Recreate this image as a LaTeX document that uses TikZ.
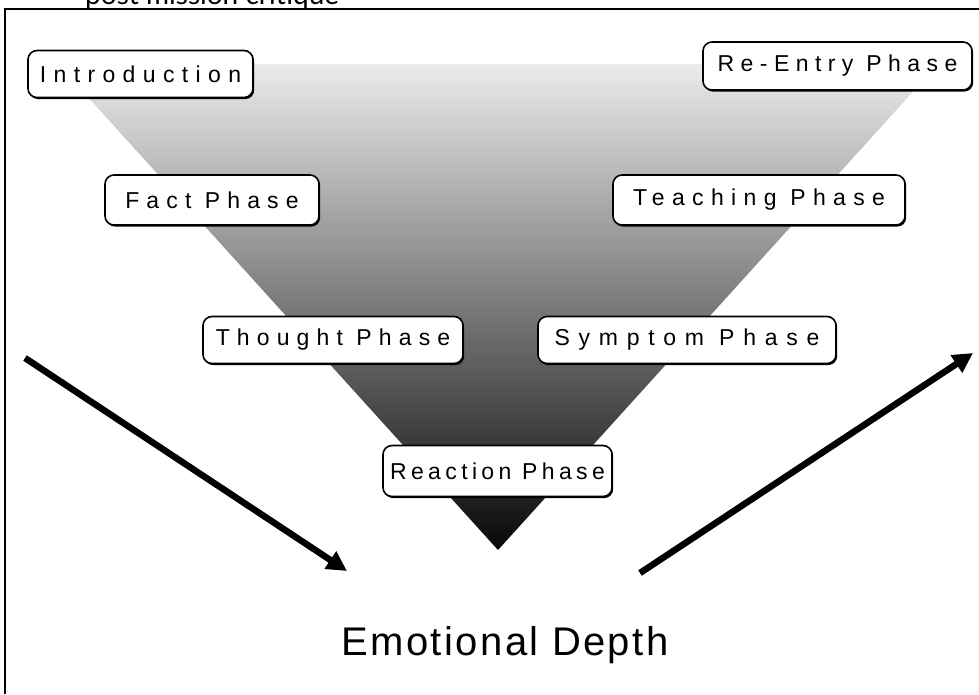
\documentclass[tikz,border=0pt]{standalone}
\usepackage{fontspec}
\setmainfont{Liberation Sans}
\newfontfamily\boxfont{Liberation Sans}
\newfontfamily\depthfont[LetterSpace=6]{Liberation Sans}
\newfontfamily\topfont{Lato}
\usetikzlibrary{arrows.meta,shadows}
\tikzset{
  phase/.style={draw, line width=1.6pt, rounded corners=9pt, fill=white,
    inner sep=0pt,
    drop shadow={shadow xshift=1.2pt, shadow yshift=-1.6pt, fill=black, opacity=1}},
  ls/.style={font=\boxfont\fontsize{23}{25}\selectfont\addfontfeatures{LetterSpace=#1}},
  bigarrow/.style={line width=6.5pt, -{Triangle[length=20pt,width=20pt]}},
  frame/.style={line width=2pt}
}
\begin{document}
\begin{tikzpicture}[x=1pt,y=-1pt]
\useasboundingbox (0,0) rectangle (979,694);
\fill[white] (0,0) rectangle (979,694);
% title (cut off at top)
\node[anchor=base west, inner sep=0pt, font=\topfont\fontsize{28}{30}\selectfont] (title) at (85,4) {post mission critique};
% frame
\draw[frame] (979,9) -- (5,9) -- (5,694);
% shaded funnel
\shade[top color=black!8, bottom color=black!97] (58,64) -- (938,64) -- (498,550) -- cycle;
% phases
\node[phase, ls=32, minimum width=225pt, minimum height=47pt] (intro) at (140.5,74) {Introduction};
\node[phase, ls=28, minimum width=269pt, minimum height=48pt] (reentry) at (837.5,66) {Re-Entry Phase};
\node[phase, ls=31, minimum width=214pt, minimum height=50pt] (fact) at (212,200) {Fact Phase};
\node[phase, ls=32, minimum width=292pt, minimum height=50pt] (teach) at (759,200) {Teaching Phase};
\node[phase, ls=31, minimum width=260pt, minimum height=47pt] (thought) at (333,340) {Thought Phase};
\node[phase, ls=38, minimum width=298pt, minimum height=47pt] (symptom) at (687,340) {Symptom Phase};
\node[phase, ls=19, minimum width=229pt, minimum height=51pt] (reaction) at (497.5,471) {Reaction Phase};
% arrows
\coordinate (la1) at (25,358);
\coordinate (la2) at (347,571);
\coordinate (ra1) at (640,573);
\coordinate (ra2) at (973,353);
\draw[bigarrow] (la1) -- (la2);
\draw[bigarrow] (ra1) -- (ra2);
% label
\node[inner sep=0pt, font=\depthfont\fontsize{40}{42}\selectfont] (depth) at (505,645) {Emotional Depth};
\end{tikzpicture}
\end{document}
